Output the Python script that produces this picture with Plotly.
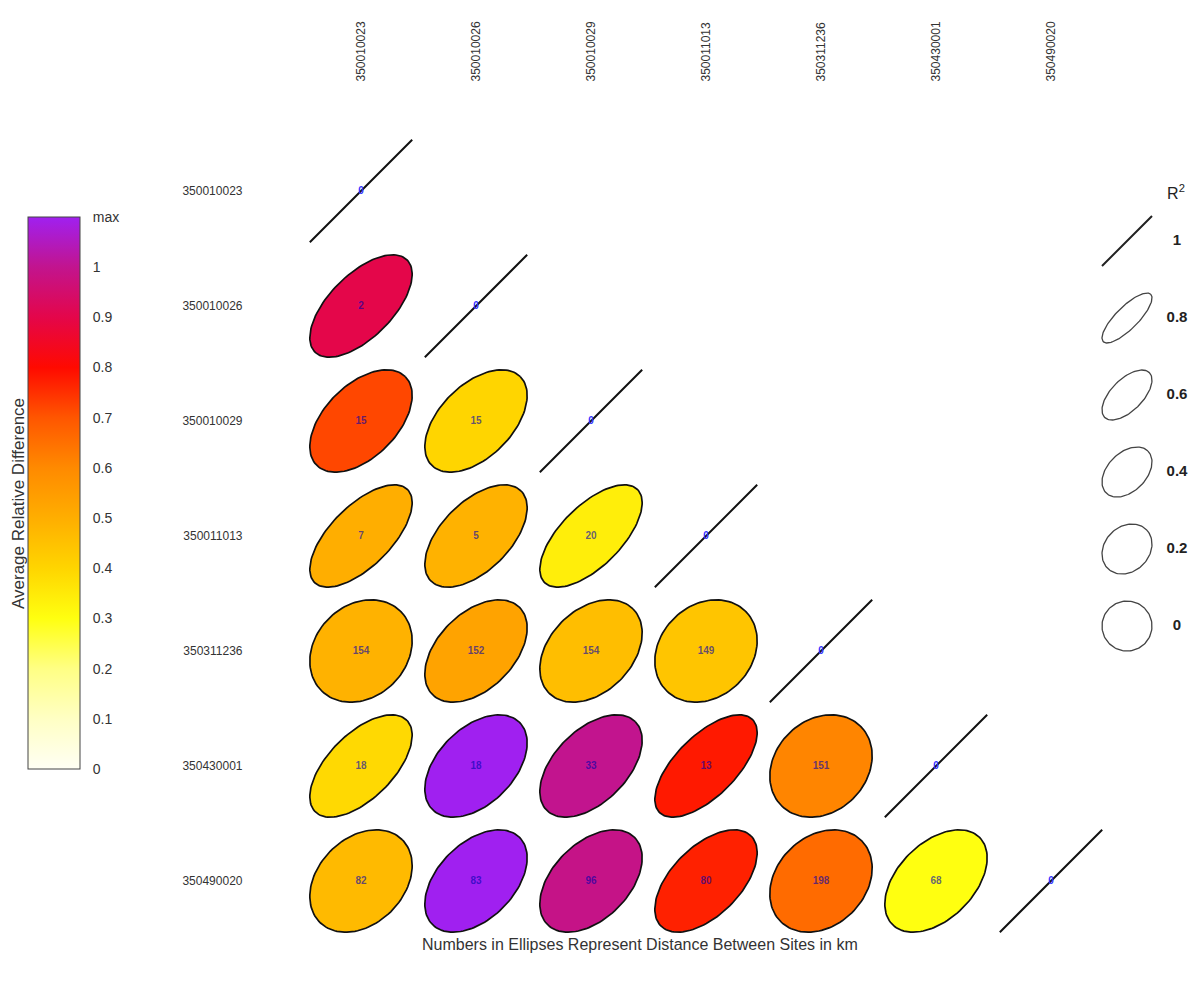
import numpy as np
import plotly.graph_objects as go
from plotly.colors import sample_colorscale

# ---------------- data ----------------
sites = ["350010023", "350010026", "350010029", "350011013",
         "350311236", "350430001", "350490020"]

# lower-triangle values, row i has i entries (columns 0..i-1)
r2_rows = [
    [],
    [0.62],
    [0.50, 0.50],
    [0.65, 0.55, 0.65],
    [0.20, 0.45, 0.35, 0.20],
    [0.60, 0.45, 0.50, 0.65, 0.20],
    [0.30, 0.45, 0.45, 0.55, 0.25, 0.45],
]
ard_rows = [
    [],
    [0.90],
    [0.72, 0.40],
    [0.50, 0.49, 0.34],
    [0.49, 0.53, 0.46, 0.44],
    [0.39, 1.10, 1.00, 0.78, 0.61],
    [0.47, 1.10, 0.99, 0.77, 0.66, 0.30],
]
dist_rows = [
    [],
    [2],
    [15, 15],
    [7, 5, 20],
    [154, 152, 154, 149],
    [18, 18, 33, 13, 151],
    [82, 83, 96, 80, 198, 68],
]
diag_dist = [0, 0, 0, 0, 0, 0, 0]

cbar_ticks = [0, 0.1, 0.2, 0.3, 0.4, 0.5, 0.6, 0.7, 0.8, 0.9, 1.0, 1.1]
cbar_ticktext = ["0", "0.1", "0.2", "0.3", "0.4", "0.5", "0.6", "0.7",
                 "0.8", "0.9", "1", "max"]
ard_max = 1.1

legend_r2 = [1, 0.8, 0.6, 0.4, 0.2, 0]
legend_text = ["1", "0.8", "0.6", "0.4", "0.2", "0"]

# colour scale (value / max)
cs_vals = [0, 0.1, 0.2, 0.3, 0.4, 0.5, 0.6, 0.7, 0.8, 0.9, 1.0, 1.1]
cs_cols = ["#FFFFF4", "#FFFFC4", "#FFFF84", "#FFFF10", "#FFD500", "#FFAE00",
           "#FF8A00", "#FF5600", "#FF0A00", "#E4064A", "#C2148E", "#A020F0"]
colorscale = [[v / ard_max, c] for v, c in zip(cs_vals, cs_cols)]

FONT = "Liberation Sans, Arial, sans-serif"
OFF = 8                      # page body margin
FW, FH = 1202 - 2 * OFF, 986 - 2 * OFF

def px(xpix):
    return (xpix - OFF) / FW

def py(ypix):
    return 1 - (ypix - OFF) / FH

# ---------------- helpers ----------------
def ellipse_xy(r, cx, cy, s, n=120):
    d = np.arccos(np.clip(r, -1, 1))
    t = np.linspace(0, 2 * np.pi, n)
    return cx + s * np.cos(t + d / 2), cy - s * np.cos(t - d / 2)

fig = go.Figure()
S = 0.445  # ellipse half-size in cell units

# ellipses
for i, row in enumerate(r2_rows):
    for j, r in enumerate(row):
        x, y = ellipse_xy(r, j + 1, i + 1, S)
        col = sample_colorscale(colorscale, [ard_rows[i][j] / ard_max])[0]
        fig.add_trace(go.Scatter(
            x=x, y=y, mode="lines", fill="toself", fillcolor=col,
            line=dict(color="#111111", width=1.7), hoverinfo="skip",
            showlegend=False))

# diagonal lines (R2 = 1)
for k in range(len(sites)):
    x, y = ellipse_xy(1.0, k + 1, k + 1, S, n=3)
    fig.add_trace(go.Scatter(x=x, y=y, mode="lines",
                             line=dict(color="#111111", width=2),
                             hoverinfo="skip", showlegend=False))

# numbers
tx, ty, tt, tc = [], [], [], []
for i, row in enumerate(dist_rows):
    for j, dv in enumerate(row):
        tx.append(j + 1); ty.append(i + 1); tt.append(f"<b>{dv}</b>")
        tc.append("rgba(0,0,175,0.62)")
for k, dv in enumerate(diag_dist):
    tx.append(k + 1); ty.append(k + 1); tt.append(f"<b>{dv}</b>")
    tc.append("#3333FF")
fig.add_trace(go.Scatter(x=tx, y=ty, mode="text", text=tt,
                         textfont=dict(family=FONT, size=10, color=tc),
                         hoverinfo="skip", showlegend=False))

# colour bar (dummy trace)
fig.add_trace(go.Scatter(
    x=[1, 1], y=[1, 1], mode="markers",
    marker=dict(size=1, opacity=0, color=[0, ard_max], cmin=0, cmax=ard_max,
                colorscale=colorscale, showscale=True,
                colorbar=dict(
                    thickness=52, thicknessmode="pixels",
                    len=552, lenmode="pixels",
                    x=px(28), xanchor="left", y=py(217), yanchor="top",
                    xpad=0, ypad=0,
                    outlinewidth=1, outlinecolor="#444444",
                    tickvals=cbar_ticks, ticktext=cbar_ticktext,
                    ticks="outside", ticklen=10, tickcolor="rgba(0,0,0,0)",
                    tickfont=dict(family=FONT, size=14, color="#333333"),
                )),
    hoverinfo="skip", showlegend=False))

# R2 legend on secondary axes (77 px per item, first item centred at y=241)
LS = 77.0
LX0, LX1 = 1090, 1194
for k, r in enumerate(legend_r2):
    x, y = ellipse_xy(r, (1127 - LX0) / LS, k, 25 / LS, n=3 if r >= 1 else 120)
    fig.add_trace(go.Scatter(x=x, y=y, mode="lines", xaxis="x2", yaxis="y2",
                             line=dict(color="#222222" if r >= 1 else "#444444",
                                       width=2 if r >= 1 else 1.3),
                             hoverinfo="skip", showlegend=False))
fig.add_trace(go.Scatter(x=[(1177 - LX0) / LS] * len(legend_text),
                         y=list(range(len(legend_text))),
                         mode="text", text=[f"<b>{t}</b>" for t in legend_text],
                         xaxis="x2", yaxis="y2",
                         textfont=dict(family=FONT, size=15, color="#222222"),
                         hoverinfo="skip", showlegend=False))
fig.add_trace(go.Scatter(x=[(1176 - LX0) / LS], y=[(195 - 241) / LS],
                         mode="text", text=["R<sup>2</sup>"],
                         xaxis="x2", yaxis="y2",
                         textfont=dict(family=FONT, size=16, color="#222222"),
                         hoverinfo="skip", showlegend=False))

n = len(sites)
fig.update_layout(
    width=FW, height=FH, template="none",
    margin=dict(l=0, r=0, t=0, b=0, autoexpand=False),
    paper_bgcolor="white", plot_bgcolor="rgba(0,0,0,0)",
    font=dict(family=FONT, color="#333333"),
    xaxis=dict(domain=[px(303.5), px(1108.5)], range=[0.5, n + 0.5],
               tickvals=list(range(1, n + 1)), ticktext=sites, side="top",
               tickangle=-90, showgrid=False, zeroline=False, showline=False,
               ticks="", ticklabelstandoff=51, automargin=False,
               tickfont=dict(family=FONT, size=12, color="#333333")),
    yaxis=dict(domain=[py(938.5), py(133.5)], range=[n + 0.5, 0.5],
               tickvals=list(range(1, n + 1)), ticktext=sites,
               showgrid=False, zeroline=False, showline=False,
               ticks="", ticklabelstandoff=60, automargin=False,
               tickfont=dict(family=FONT, size=12, color="#333333")),
    xaxis2=dict(domain=[px(LX0), px(LX1)], range=[0, (LX1 - LX0) / LS],
                visible=False, fixedrange=True),
    yaxis2=dict(domain=[0, 1], range=[(FH + OFF - 241) / LS, (OFF - 241) / LS],
                visible=False, fixedrange=True),
    annotations=[
        dict(text="Average Relative Difference", x=px(19), y=py(504),
             xref="paper", yref="paper", textangle=-90, showarrow=False,
             xanchor="center", yanchor="middle",
             font=dict(family=FONT, size=17, color="#333333")),
        dict(text="Numbers in Ellipses Represent Distance Between Sites in km",
             x=px(640), y=py(944), xref="paper", yref="paper",
             showarrow=False, xanchor="center", yanchor="middle",
             font=dict(family=FONT, size=16, color="#333333")),
    ],
)

fig.write_html("out.html")
